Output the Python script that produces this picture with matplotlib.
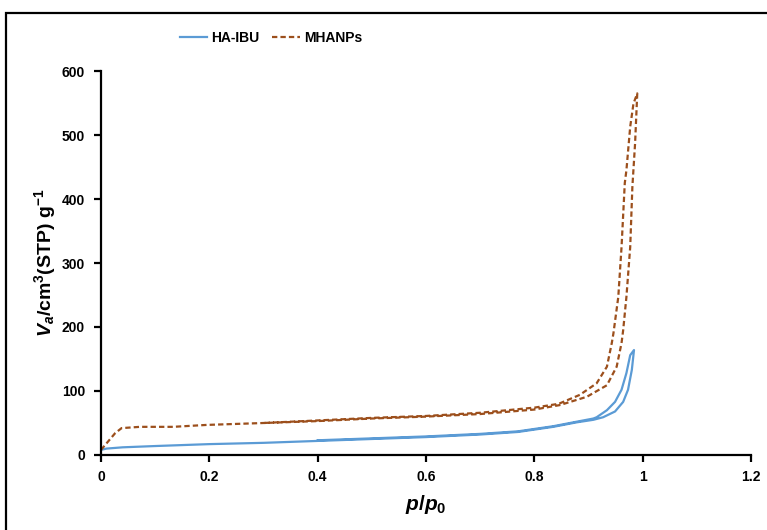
import matplotlib
matplotlib.use("Agg")
import matplotlib.pyplot as plt
from matplotlib.patches import Rectangle

# HA-IBU isotherm (adsorption + desorption branch)
ha_ads_p = [0, 0.01, 0.04, 0.1, 0.2, 0.3, 0.4, 0.5, 0.6, 0.7, 0.77, 0.835, 0.878,
            0.909, 0.927, 0.949, 0.964, 0.973, 0.980, 0.984]
ha_ads_v = [8, 10, 12, 14, 17, 19, 22, 25, 28, 32, 36, 44, 51,
            55, 59, 68, 83, 102, 133, 164]
ha_des_p = [0.984, 0.977, 0.970, 0.961, 0.949, 0.934, 0.915, 0.909, 0.878, 0.835,
            0.77, 0.7, 0.6, 0.5, 0.4]
ha_des_v = [164, 156, 128, 102, 83, 70, 59, 57, 52, 45, 37, 33, 29, 26, 23]

# MHANPs isotherm
mh_ads_p = [0, 0.013, 0.026, 0.038, 0.072, 0.133, 0.195, 0.3, 0.4, 0.5, 0.6, 0.7,
            0.8, 0.847, 0.897, 0.934, 0.952, 0.961, 0.964, 0.970, 0.977, 0.981,
            0.986, 0.990]
mh_ads_v = [8, 21, 34, 42, 44, 44, 47, 50, 53, 57, 60, 64,
            71, 78, 91, 109, 138, 175, 195, 247, 325, 419,
            487, 565]
mh_des_p = [0.990, 0.983, 0.977, 0.970, 0.967, 0.961, 0.955, 0.946, 0.943, 0.934,
            0.915, 0.884, 0.845, 0.8, 0.7, 0.6, 0.5, 0.4, 0.3]
mh_des_v = [565, 549, 513, 445, 425, 325, 247, 190, 175, 138,
            112, 94, 80, 74, 66, 61, 58, 54, 50]

xticks = [0, 0.2, 0.4, 0.6, 0.8, 1, 1.2]
xticklabels = ['0', '0.2', '0.4', '0.6', '0.8', '1', '1.2']
yticks = [0, 100, 200, 300, 400, 500, 600]

plt.rcParams['font.family'] = ['Liberation Sans', 'DejaVu Sans']
plt.rcParams['font.weight'] = 'bold'
plt.rcParams['axes.labelweight'] = 'bold'
plt.rcParams['mathtext.fontset'] = 'custom'
plt.rcParams['mathtext.rm'] = 'Liberation Sans:bold'
plt.rcParams['mathtext.it'] = 'Liberation Sans:italic:bold'
plt.rcParams['mathtext.bf'] = 'Liberation Sans:bold'

blue = '#5B9BD5'
brown = '#9C4F1C'

fig = plt.figure(figsize=(7.67, 5.30), dpi=100)
ax = fig.add_axes([101 / 767, 1 - 455 / 530, 650 / 767, 384 / 530])

ax.plot(ha_ads_p + ha_des_p, ha_ads_v + ha_des_v, color=blue, lw=1.6,
        label='HA-IBU')
ax.plot(mh_ads_p + mh_des_p, mh_ads_v + mh_des_v, color=brown, lw=1.6,
        dashes=(2.4, 1.4), label='MHANPs')

ax.set_xlim(0, 1.2)
ax.set_ylim(0, 600)
ax.set_xticks(xticks)
ax.set_xticklabels(xticklabels)
ax.set_yticks(yticks)
for s in ['top', 'right']:
    ax.spines[s].set_visible(False)
for s in ['left', 'bottom']:
    ax.spines[s].set_linewidth(1.6)
ax.tick_params(axis='both', direction='out', length=5, width=1.6,
               labelsize=10, colors='black')
ax.tick_params(axis='x', pad=6)
ax.tick_params(axis='y', pad=6.5)

ax.set_xlabel(r'$p/p_0$', fontsize=15, labelpad=6)
ax.set_ylabel(r'$V_a$/cm$^3$(STP) g$^{-1}$', fontsize=14, labelpad=3)

fig.legend(loc='center', bbox_to_anchor=(271 / 767, 1 - 38 / 530), ncol=2,
           frameon=False, fontsize=10, handlelength=2.0, columnspacing=0.9,
           handletextpad=0.3)

# outer border of the chart area
fig.add_artist(Rectangle((6 / 767, -0.05), 1.0, 0.05 + (530 - 13) / 530,
                         transform=fig.transFigure, fill=False,
                         edgecolor='black', lw=1.6))

fig.savefig('out.png', dpi=100)
